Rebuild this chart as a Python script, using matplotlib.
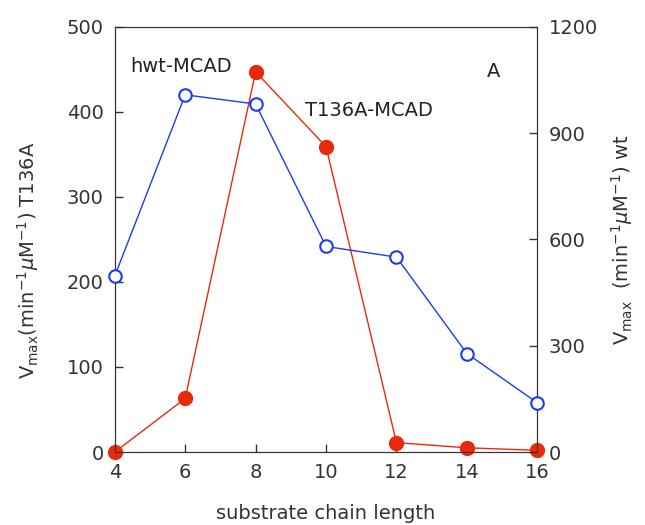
import numpy as np
import matplotlib.pyplot as plt

chain_length = [4, 6, 8, 10, 12, 14, 16]
t136a = [0, 63, 447, 359, 11, 5, 2]          # left axis
hwt = [497, 1008, 982, 580, 550, 278, 139]    # right axis

red = '#e82a0c'
blue = '#1a3cf0'

plt.rcParams['font.family'] = 'DejaVu Sans'
plt.rcParams['font.size'] = 14

fig = plt.figure(figsize=(6.45, 5.25), dpi=100)
ax = fig.add_axes([0.178, 0.139, 0.655, 0.810])
ax2 = ax.twinx()

ax.plot(chain_length, t136a, color=red, lw=1, marker='o', ms=10,
        mfc=red, mec=red, clip_on=False, zorder=3)
ax2.plot(chain_length, hwt, color=blue, lw=1, marker='o', ms=9,
         mfc='white', mec=blue, mew=1.5, clip_on=False, zorder=3)

ax.set_xlim(4, 16)
ax.set_ylim(0, 500)
ax2.set_ylim(0, 1200)
ax.set_xticks([4, 6, 8, 10, 12, 14, 16])
ax.set_yticks([0, 100, 200, 300, 400, 500])
ax2.set_yticks([0, 300, 600, 900, 1200])

for a in (ax, ax2):
    a.tick_params(direction='in', length=6, width=1, pad=8,
                  colors='#333333', labelcolor='#333333')
    for s in a.spines.values():
        s.set_color('#333333')

ax.set_xlabel('substrate chain length', color='#333333', labelpad=16)
ax.set_ylabel(r'V$_{\rm max}$(min$^{-1}\mu$M$^{-1}$) T136A', color='#333333')
ax.yaxis.set_label_coords(-0.175, 0.45)
ax2.set_ylabel(r'V$_{\rm max}$  (min$^{-1}\mu$M$^{-1}$) wt', color='#333333', labelpad=8)

ax.text(4.43, 453, 'hwt-MCAD', color='#222222', va='center')
ax.text(9.4, 402, 'T136A-MCAD', color='#222222', va='center')
ax.text(14.75, 447, 'A', color='#222222', ha='center', va='center')

fig.savefig('out.png', dpi=100)
